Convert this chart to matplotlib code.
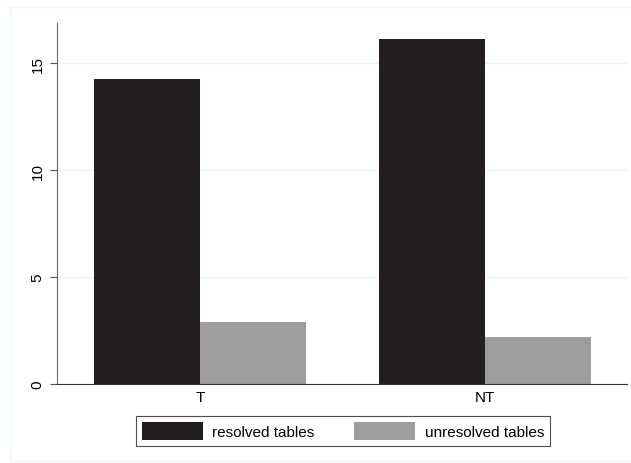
import matplotlib.pyplot as plt
import numpy as np
from matplotlib.patches import Rectangle

plt.rcParams['font.family'] = ['Liberation Sans', 'DejaVu Sans']

# data
groups = ["T", "NT"]
resolved = [14.25, 16.12]
unresolved = [2.9, 2.2]
series_labels = ["resolved tables", "unresolved tables"]

fig = plt.figure(figsize=(6.31, 4.64), dpi=100)
# faint outer frame like Stata's graph region
fig.patches.append(Rectangle((10 / 631, 0.005), 0.99, 1 - 8 / 464 - 0.005,
                             transform=fig.transFigure, fill=False,
                             edgecolor='#eef9f8', linewidth=1))

ax = fig.add_axes([57 / 631, 1 - 385 / 464, (627 - 57) / 631, (385 - 24) / 464])

x = np.arange(len(groups))
w = 0.373
ax.bar(x - w / 2, resolved, w, color='#231f20', label=series_labels[0])
ax.bar(x + w / 2, unresolved, w, color='#9d9d9d', label=series_labels[1])

ax.set_xlim(-0.5035, 1.50)
ax.set_ylim(0, 16.87)

ax.set_yticks([0, 5, 10, 15])
ax.set_yticklabels(["0", "5", "10", "15"], rotation=90, va='center', fontsize=11)
ax.set_xticks(x)
ax.set_xticklabels(groups, fontsize=11)
ax.tick_params(axis='x', length=0, pad=4)
ax.tick_params(axis='y', length=5, color='#555555', pad=4)

for yv in [5, 10, 15]:
    ax.axhline(yv, color='#eaf8f5', linewidth=1, zorder=0)

for s in ['top', 'right']:
    ax.spines[s].set_visible(False)
ax.spines['left'].set_color('#666666')
ax.spines['bottom'].set_color('#333333')

leg = fig.legend(loc='center', bbox_to_anchor=(343 / 631, 1 - 432 / 464), ncol=2,
                 frameon=True, fancybox=False, edgecolor='#222222', fontsize=11,
                 handlelength=4.0, handleheight=1.4, columnspacing=2.6,
                 borderpad=0.4, handletextpad=0.6)
leg.get_frame().set_linewidth(0.8)

fig.savefig('out.png', dpi=100)
